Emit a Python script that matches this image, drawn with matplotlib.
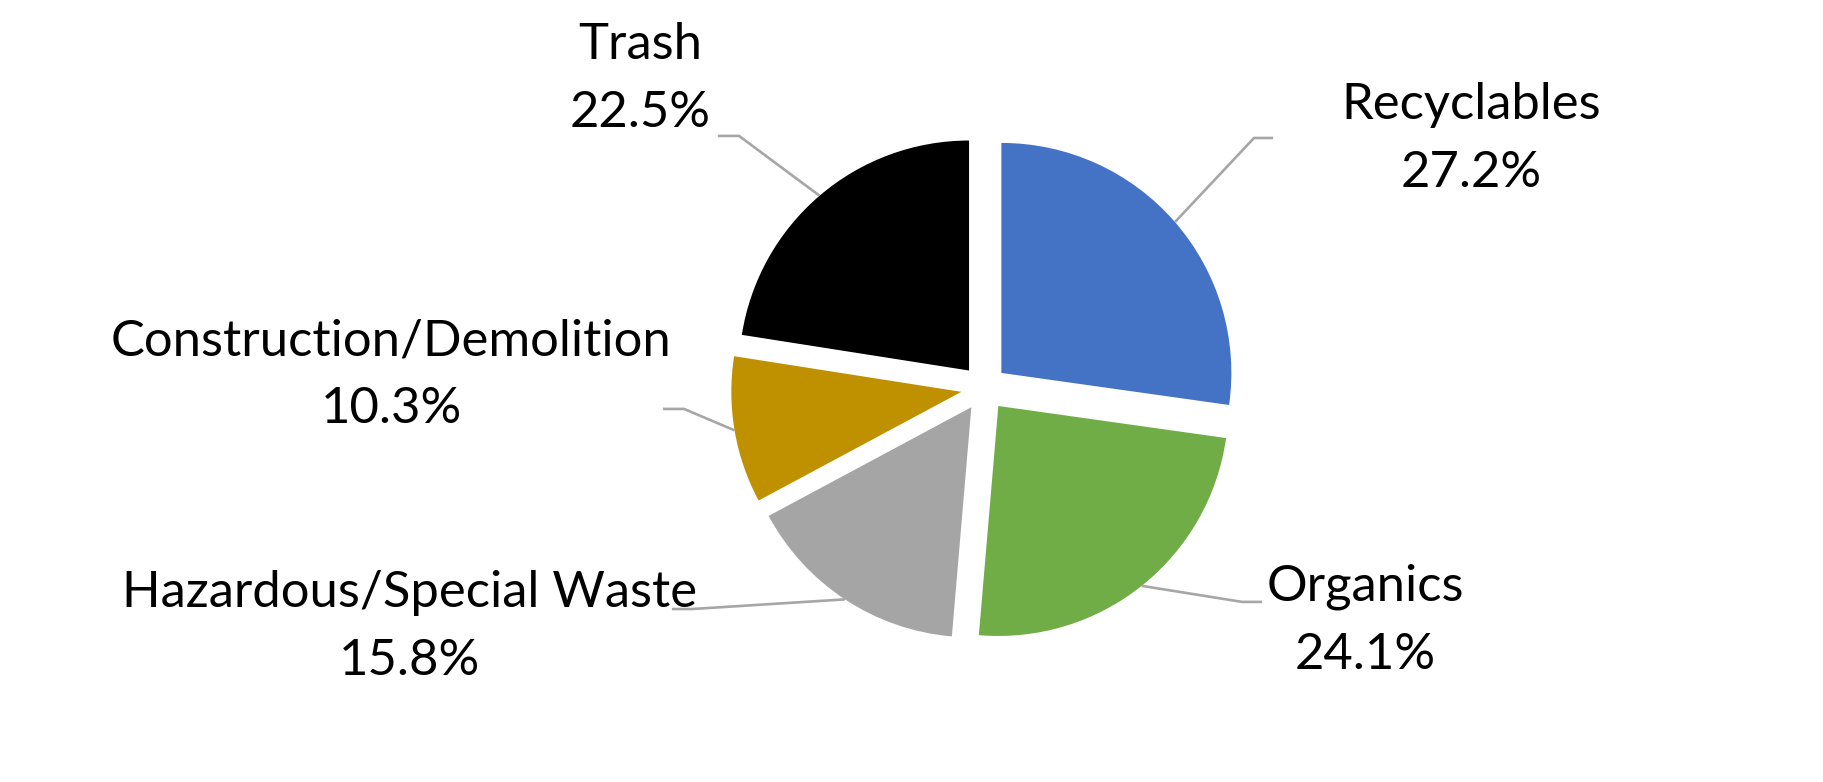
import numpy as np
import matplotlib
matplotlib.use("Agg")
import matplotlib.pyplot as plt

# ---- data ----
categories = ["Recyclables", "Organics", "Hazardous/Special Waste",
              "Construction/Demolition", "Trash"]
shares = [27.2, 24.1, 15.8, 10.3, 22.5]
pct_labels = ["27.2%", "24.1%", "15.8%", "10.3%", "22.5%"]
colors = ["#4472C4", "#70AD47", "#A5A5A5", "#BF9000", "#000000"]

# ---- layout (data units of the pie axes, radius = 1) ----
label_xy = [(2.117, 1.170), (1.657, -0.926), (-2.496, -0.952),
            (-2.578, 0.143), (-1.496, 1.430)]
elbow_xy = [((1.257, 1.087), (1.174, 1.087)),
            ((1.209, -0.930), (1.122, -0.930)),
            ((-1.357, -0.961), (-1.270, -0.961)),
            ((-1.396, -0.091), (-1.304, -0.091)),
            ((-1.157, 1.096), (-1.065, 1.096))]
line_gap = 0.296
explode = 0.1

W, H, DPI = 1824, 782, 100
fig = plt.figure(figsize=(W / DPI, H / DPI), dpi=DPI)
ax = fig.add_axes([0, 0, 1, 1])
ax.axis("off")

wedges, _ = ax.pie(shares, colors=colors, startangle=90, counterclock=False,
                   explode=[explode] * len(shares), radius=1.0,
                   wedgeprops=dict(linewidth=0))

unit = 230.0
cx, cy = 984.0, 388.0
ax.set_xlim(-cx / unit, (W - cx) / unit)
ax.set_ylim(-(H - cy) / unit, cy / unit)
ax.set_aspect("auto")

font = dict(family=["Lato", "DejaVu Sans"], size=36.5, color="black")
for w, name, pct, (lx, ly), (p0, p1) in zip(wedges, categories, pct_labels,
                                             label_xy, elbow_xy):
    mid = np.deg2rad((w.theta1 + w.theta2) / 2)
    ex, ey = (1 + explode) * np.cos(mid), (1 + explode) * np.sin(mid)
    ax.plot([p0[0], p1[0], ex], [p0[1], p1[1], ey], color="#A6A6A6",
            lw=1.9, solid_capstyle="butt", zorder=1)
    ax.text(lx, ly, name, ha="center", va="baseline", **font)
    ax.text(lx, ly - line_gap, pct, ha="center", va="baseline", **font)

fig.savefig("out.png", dpi=DPI, facecolor="white")
